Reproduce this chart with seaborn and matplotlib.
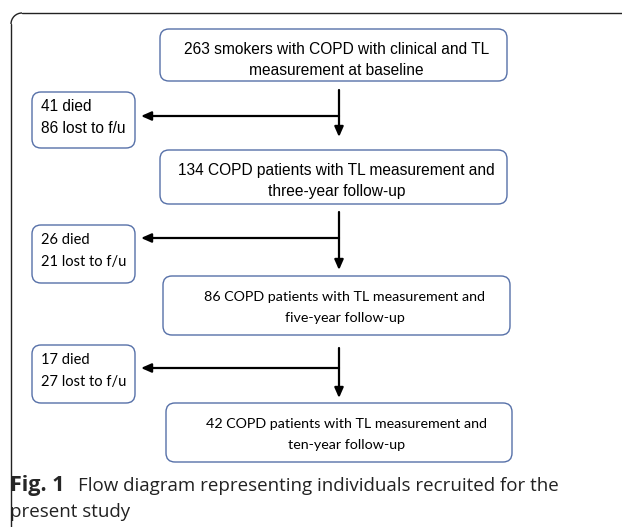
import matplotlib
matplotlib.use("Agg")
import matplotlib.pyplot as plt
from matplotlib.patches import FancyBboxPatch, Arc
import seaborn as sns

# counts
patients = [263, 134, 86, 42]
died = [41, 26, 17]
lost = [86, 21, 27]
followup = ["baseline", "three-year", "five-year", "ten-year"]

main_text = [
    [f"{patients[0]} smokers with COPD with clinical and TL", f"measurement at {followup[0]}"],
    [f"{patients[1]} COPD patients with TL measurement and", f"{followup[1]} follow-up"],
    [f"{patients[2]} COPD patients with TL measurement and", f"{followup[2]} follow-up"],
    [f"{patients[3]} COPD patients with TL measurement and", f"{followup[3]} follow-up"],
]
side_text = [[f"{d} died", f"{l} lost to f/u"] for d, l in zip(died, lost)]

# layout in pixels (x0, y0, x1, y1)
main_boxes = [(160, 29, 507, 81), (160, 150, 507, 204), (163, 276, 510, 335), (166, 403, 512, 462)]
side_boxes = [(32, 92, 135, 148), (32, 225, 135, 283), (32, 345, 135, 403)]
main_fonts = [("Liberation Sans", 11.2, 3), ("Liberation Sans", 11.2, 3), ("Lato", 10.25, 8), ("Lato", 10.25, 8)]
side_fonts = [("Liberation Sans", 11.2), ("Lato", 10.5), ("Lato", 10.5)]
edge = "#5670a8"

sns.set_theme(style="white")
fig = plt.figure(figsize=(6.22, 5.27), dpi=100)
ax = fig.add_axes([0, 0, 1, 1])
ax.set_xlim(0, 622)
ax.set_ylim(527, 0)
ax.axis("off")

# outer frame (open on the right and bottom)
ax.plot([11, 11], [527, 24], color="#222222", lw=1.0)
ax.plot([22, 622], [13, 13], color="#222222", lw=1.0)
ax.add_patch(Arc((22, 24), 22, 22, theta1=180, theta2=270, color="#222222", lw=1.0))


def rbox(b):
    x0, y0, x1, y1 = b
    ax.add_patch(FancyBboxPatch((x0, y0), x1 - x0, y1 - y0,
                                boxstyle="round,pad=0,rounding_size=9",
                                fc="white", ec=edge, lw=1.0))


for b, lines, (fam, fs, dx) in zip(main_boxes, main_text, main_fonts):
    rbox(b)
    xc_box = (b[0] + b[2]) / 2 + dx
    for k, line in enumerate(lines):
        ax.text(xc_box, b[1] + 25 + 21 * k, line, ha="center", va="baseline",
                fontsize=fs, family=fam, color="black")

for b, lines, (fam, fs) in zip(side_boxes, side_text, side_fonts):
    rbox(b)
    for k, line in enumerate(lines):
        ax.text(b[0] + 9, b[1] + 19 + 22 * k, line, ha="left", va="baseline",
                fontsize=fs, family=fam, color="black")

arrow = dict(arrowstyle="-|>,head_length=0.5,head_width=0.22", color="black", lw=1.6,
             shrinkA=0, shrinkB=0)
xc = 339
v_top = [90, 212, 348]
v_bot = [137, 270, 398]
h_y = [116, 238, 368]
for i, sb in enumerate(side_boxes):
    ax.annotate("", xy=(xc, v_bot[i]), xytext=(xc, v_top[i]), arrowprops=arrow)
    ax.annotate("", xy=(sb[2] + 6, h_y[i]), xytext=(xc, h_y[i]), arrowprops=arrow)

# caption
ax.text(10, 491, "Fig. 1", fontsize=15.5, fontweight="bold", family="Open Sans",
        ha="left", va="baseline")
ax.text(78, 491, "Flow diagram representing individuals recruited for the",
        fontsize=13.5, family="Open Sans", ha="left", va="baseline", color="#222222")
ax.text(10, 517, "present study", fontsize=13.5, family="Open Sans",
        ha="left", va="baseline", color="#222222")

fig.savefig("out.png", dpi=100)
